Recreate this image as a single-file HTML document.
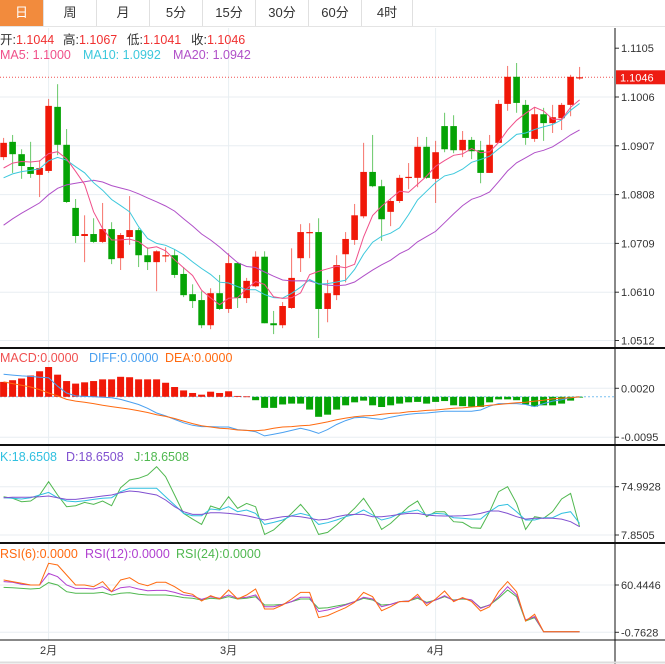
<!DOCTYPE html>
<html><head><meta charset="utf-8">
<style>
html,body{margin:0;padding:0;background:#fff;width:665px;height:664px;overflow:hidden;font-family:"Liberation Sans","Noto Sans CJK SC",sans-serif;}
#tabs{position:absolute;left:0;top:0;width:665px;height:26px;border-bottom:1px solid #e4e4e4;}
.tab{position:absolute;top:0;height:26px;line-height:26px;text-align:center;font-size:13px;color:#333;border-right:1px solid #e0e0e0;box-sizing:border-box;}
.tab.on{background:#f28b3d;color:#fff;}
svg{position:absolute;left:0;top:0;}
</style></head><body>
<div id="tabs">
<div class="tab on" style="left:0;width:44px">日</div>
<div class="tab" style="left:44px;width:53px">周</div>
<div class="tab" style="left:97px;width:53px">月</div>
<div class="tab" style="left:150px;width:53px">5分</div>
<div class="tab" style="left:203px;width:53px">15分</div>
<div class="tab" style="left:256px;width:53px">30分</div>
<div class="tab" style="left:309px;width:53px">60分</div>
<div class="tab" style="left:362px;width:51px">4时</div>
</div>
<svg id="chart" width="665" height="664" viewBox="0 0 665 664" font-family="Liberation Sans, Noto Sans CJK SC, sans-serif">
<g id="grid"></g>
<g id="marks"></g>
<g font-size="12.5">
<text y="44" fill="#333"><tspan x="0">开:</tspan><tspan fill="#f03030">1.1044</tspan><tspan x="63">高:</tspan><tspan fill="#f03030">1.1067</tspan><tspan x="127">低:</tspan><tspan fill="#f03030">1.1041</tspan><tspan x="191">收:</tspan><tspan fill="#f03030">1.1046</tspan></text>
<text y="59"><tspan x="0" fill="#f0508a">MA5: 1.1000</tspan><tspan x="83" fill="#3cc8dc">MA10: 1.0992</tspan><tspan x="173" fill="#b050c8">MA20: 1.0942</tspan></text>
</g>
<text y="362" font-size="12.5"><tspan x="0" fill="#f05050">MACD:0.0000</tspan><tspan x="89" fill="#4aa0f0">DIFF:0.0000</tspan><tspan x="165" fill="#ff6a10">DEA:0.0000</tspan></text>
<text y="461" font-size="12.5"><tspan x="0" fill="#30c0e0">K:18.6508</tspan><tspan x="66" fill="#8050d0">D:18.6508</tspan><tspan x="134" fill="#50b850">J:18.6508</tspan></text>
<text y="558" font-size="12.5"><tspan x="0" fill="#ff6a10">RSI(6):0.0000</tspan><tspan x="85" fill="#b040d0">RSI(12):0.0000</tspan><tspan x="176" fill="#50b850">RSI(24):0.0000</tspan></text>
</svg>
<script>
const prior=[1.0630,1.0640,1.0645,1.0650,1.0655,1.0650,1.0655,1.0660,1.0660,1.0655,1.0810,1.0820,1.0825,1.0830,1.0825,1.0840,1.0850,1.0855,1.0852];
const opens=[1.0884,1.0915,1.0890,1.0864,1.0848,1.0856,1.0986,1.0909,1.0781,1.0724,1.0728,1.0712,1.0738,1.0679,1.0722,1.0736,1.0685,1.0671,1.0684,1.0685,1.0647,1.0606,1.0594,1.0543,1.0608,1.0576,1.0669,1.0598,1.0622,1.0682,1.0547,1.0543,1.0578,1.0679,1.0730,1.0732,1.0576,1.0604,1.0687,1.0716,1.0764,1.0854,1.0825,1.0773,1.0795,1.0842,1.0842,1.0905,1.0840,1.0947,1.0947,1.0898,1.0919,1.0898,1.0852,1.0913,1.0992,1.1047,1.0990,1.0921,1.0971,1.0953,1.0963,1.0990,1.1044];
const highs=[1.0923,1.0929,1.0900,1.0915,1.0878,1.1002,1.1032,1.0941,1.0799,1.0766,1.0760,1.0791,1.0752,1.0730,1.0805,1.0740,1.0701,1.0695,1.0701,1.0697,1.0661,1.0626,1.0612,1.0618,1.0645,1.0689,1.0671,1.0639,1.0693,1.0693,1.0572,1.0590,1.0699,1.0748,1.0750,1.0760,1.0635,1.0685,1.0732,1.0789,1.0913,1.0929,1.0838,1.0801,1.0848,1.0872,1.0925,1.0925,1.0917,1.0974,1.0969,1.0937,1.0925,1.0917,1.0929,1.1000,1.1069,1.1075,1.1000,1.0984,1.0984,1.0990,1.0994,1.1051,1.1067];
const lows=[1.0878,1.0852,1.0840,1.0842,1.0803,1.0852,1.0888,1.0791,1.0710,1.0671,1.0710,1.0710,1.0667,1.0655,1.0706,1.0661,1.0655,1.0612,1.0671,1.0639,1.0600,1.0578,1.0537,1.0535,1.0574,1.0568,1.0578,1.0588,1.0620,1.0547,1.0525,1.0537,1.0576,1.0651,1.0679,1.0517,1.0549,1.0594,1.0630,1.0706,1.0760,1.0823,1.0714,1.0744,1.0791,1.0819,1.0823,1.0840,1.0791,1.0894,1.0892,1.0884,1.0880,1.0831,1.0852,1.0913,1.0978,1.0974,1.0909,1.0915,1.0917,1.0933,1.0939,1.0967,1.1041];
const closes=[1.0913,1.0890,1.0866,1.0850,1.0862,1.0988,1.0909,1.0793,1.0724,1.0728,1.0712,1.0738,1.0677,1.0726,1.0736,1.0685,1.0671,1.0693,1.0685,1.0645,1.0604,1.0592,1.0543,1.0608,1.0576,1.0669,1.0598,1.0633,1.0682,1.0547,1.0543,1.0582,1.0639,1.0732,1.0732,1.0576,1.0608,1.0665,1.0718,1.0766,1.0854,1.0825,1.0758,1.0795,1.0842,1.0844,1.0905,1.0842,1.0894,1.0900,1.0898,1.0919,1.0896,1.0852,1.0909,1.0992,1.1047,1.0994,1.0923,1.0971,1.0953,1.0965,1.0990,1.1047,1.1046];
const priceTicks=[1.1105,1.1006,1.0907,1.0808,1.0709,1.0610,1.0512];
const macd=[0.0035,0.0039,0.0043,0.0050,0.0060,0.0070,0.0052,0.0037,0.0031,0.0034,0.0037,0.0041,0.0041,0.0047,0.0046,0.0041,0.0041,0.0041,0.0033,0.0023,0.0015,0.0009,0.0005,0.0012,0.0009,0.0013,0.0002,0.0001,-0.0008,-0.0026,-0.0026,-0.0018,-0.0016,-0.0016,-0.0030,-0.0047,-0.0042,-0.0030,-0.0020,-0.0013,-0.0009,-0.0020,-0.0024,-0.0020,-0.0016,-0.0013,-0.0012,-0.0016,-0.0012,-0.0010,-0.0020,-0.0022,-0.0023,-0.0024,-0.0013,-0.0006,-0.0006,-0.0008,-0.0018,-0.0023,-0.0020,-0.0020,-0.0016,-0.0009,-0.0001];
const dif=[0.0053,0.0051,0.0049,0.0048,0.0046,0.0045,0.0025,0.0009,0.0002,0.0001,0,-0.0001,-0.0002,-0.0006,-0.0012,-0.0018,-0.0027,-0.0038,-0.0045,-0.0053,-0.0061,-0.0067,-0.0070,-0.0070,-0.0071,-0.0071,-0.0077,-0.0079,-0.0082,-0.0092,-0.0088,-0.0084,-0.0079,-0.0074,-0.0079,-0.0086,-0.0077,-0.0065,-0.0056,-0.0049,-0.0048,-0.0051,-0.0053,-0.0048,-0.0044,-0.0041,-0.0039,-0.0038,-0.0036,-0.0034,-0.0034,-0.0034,-0.0034,-0.0031,-0.0022,-0.0016,-0.0016,-0.0016,-0.0018,-0.0023,-0.0016,-0.0010,-0.0007,-0.0002,0];
const dea=[0.0035,0.0031,0.0027,0.0023,0.0017,0.0009,0.0002,-0.0006,-0.0010,-0.0013,-0.0016,-0.0020,-0.0023,-0.0026,-0.0029,-0.0033,-0.0037,-0.0042,-0.0046,-0.0051,-0.0057,-0.0063,-0.0068,-0.0071,-0.0074,-0.0075,-0.0078,-0.0079,-0.0080,-0.0078,-0.0074,-0.0071,-0.0070,-0.0068,-0.0067,-0.0063,-0.0059,-0.0054,-0.0050,-0.0047,-0.0045,-0.0044,-0.0041,-0.0039,-0.0038,-0.0035,-0.0034,-0.0032,-0.0031,-0.0029,-0.0027,-0.0026,-0.0024,-0.0022,-0.0020,-0.0018,-0.0016,-0.0014,-0.0013,-0.0010,-0.0008,-0.0005,-0.0003,-0.0002,0];
const macdTicks=[0.0020,-0.0095];
const kVals=[59.7,58.8,57.9,59.7,63.4,67.1,59.7,55.1,54.1,55.5,57.4,58.8,59.7,68.0,72.7,72.7,72.7,72.7,61.1,49.5,37.9,34.7,34.7,44.0,42.6,47.2,40.2,42.6,37.9,22.6,25.4,28.7,34.7,37.9,34.7,22.6,24.9,28.7,33.3,36.5,42.6,35.6,28.7,31.9,37.9,40.2,42.6,35.6,37.9,37.0,31.9,31.0,30.0,30.0,40.2,48.6,50.4,40.2,28.7,28.7,31.9,31.9,37.9,40.2,24.0];
const dVals=[59.7,60.2,60.2,60.6,61.1,62.0,59.7,57.4,57.4,58.8,60.2,62.0,63.4,66.7,69.0,68.0,65.7,63.4,56.5,47.2,40.2,36.5,36.5,38.8,38.8,37.9,36.5,34.7,31.9,28.7,31.0,33.3,34.2,33.3,31.0,28.7,30.0,33.3,35.6,36.5,36.5,33.3,33.3,34.7,36.5,37.9,37.9,35.6,34.7,34.2,34.2,34.7,35.6,37.9,41.2,41.2,37.9,33.3,30.0,31.0,31.0,31.0,30.0,26.4,19.4];
const jVals=[61.1,58.8,54.1,55.1,63.4,81.9,63.4,47.2,48.6,53.2,50.4,55.1,48.6,73.6,84.3,86.6,91.2,102.8,88.9,63.4,37.9,30.0,22.6,48.1,44.0,61.1,44.9,51.8,47.2,8.7,14.8,26.4,37.9,50.4,35.6,8.7,11.5,21.7,33.3,44.9,58.8,40.2,15.7,24.0,35.6,47.2,55.1,33.3,40.2,40.2,26.4,25.4,18.0,17.1,40.2,68.0,75.0,51.8,15.7,33.3,31.0,40.2,57.9,65.7,19.4];
const kdjTicks=[74.9928,7.8505];
const rsi6=[66.9,64.8,62.6,60.4,60.4,88.5,86.3,73.4,60.4,60.4,58.3,64.8,51.8,66.9,69.9,62.6,59.6,63.9,63.9,58.3,50.9,48.4,39.7,46.6,42.3,54.0,42.3,47.5,55.3,29.4,29.4,34.6,42.3,50.9,50.9,18.2,20.8,26.0,31.1,38.0,50.9,45.3,27.2,32.4,38.9,38.9,48.4,33.7,42.3,52.7,38.9,44.1,38.9,26.8,32.4,51.8,64.8,51.8,13.9,22.5,0,0,0,0,0];
const rsi12=[64.8,63.9,61.3,60.4,60.4,75.5,71.2,60.4,56.1,56.1,55.3,58.3,51.8,57.0,58.3,55.3,53.1,53.5,53.5,50.9,47.5,46.2,41.9,45.3,43.2,47.5,43.2,44.5,47.5,32.4,32.4,35.4,38.9,44.5,44.5,26.0,28.1,31.1,34.6,38.9,44.5,42.3,32.4,35.4,38.9,39.7,45.3,36.7,41.0,46.6,40.2,43.2,41.0,30.3,34.6,45.3,58.3,47.5,15.2,19.5,0,0,0,0,0];
const rsi24=[57.4,57.0,56.1,55.3,56.1,63.5,60.4,51.8,49.7,49.7,49.7,50.9,47.5,49.7,50.5,48.4,47.5,47.5,47.5,46.2,44.1,43.2,41.0,43.2,42.3,45.3,42.3,43.2,45.3,34.6,34.6,35.4,38.9,42.3,42.3,30.3,31.1,33.3,35.4,38.9,43.2,41.0,34.6,35.4,38.9,39.7,43.2,38.0,41.0,45.3,41.0,42.3,41.0,31.1,34.6,43.2,54.0,45.3,13.9,18.2,0,0,0,0,0];
const rsiTicks=[60.4446,-0.7628];
const monthLabels=["2月","3月","4月"];
const monthIdx=[5,25,48];

const NS="http://www.w3.org/2000/svg";
const grid=document.getElementById('grid'), marks=document.getElementById('marks');
function mk(tag,attrs,parent){const e=document.createElementNS(NS,tag);for(const k in attrs)e.setAttribute(k,attrs[k]);(parent||marks).appendChild(e);return e;}
const AX=615;
const yP=p=>97+(1.1006-p)/0.0099*48.8;
const xC=i=>3.6+9*i;
const xI=xC;
const yM=v=>396.8-v/0.000235;
const yK=v=>486.7-(v-74.9928)/1.39;
const yR=v=>585-(v-60.4446)/1.294;
function label(txt,y,name){const t=mk('text',{x:AX+6,y:y+4,'font-size':11,fill:'#333'},grid);t.textContent=txt;


mk('line',{x1:AX,x2:AX+4,y1:y,y2:y,stroke:'#333'},grid);}
priceTicks.forEach((p,i)=>{const y=yP(p);if(i>0)mk('line',{x1:0,x2:AX,y1:y,y2:y,stroke:'#e8eef2'},grid);label(p.toFixed(4),y,'price-tick');});
monthIdx.forEach(i=>{mk('line',{x1:xC(i),x2:xC(i),y1:28,y2:640,stroke:'#e8eef2'},grid);});
macdTicks.forEach(v=>{const y=yM(v);mk('line',{x1:0,x2:AX,y1:y,y2:y,stroke:'#e8eef2'},grid);label(v.toFixed(4),y,'macd-tick');});
kdjTicks.forEach(v=>{const y=yK(v);mk('line',{x1:0,x2:AX,y1:y,y2:y,stroke:'#e8eef2'},grid);label(v.toFixed(4),y,'kdj-tick');});
rsiTicks.forEach(v=>{const y=yR(v);mk('line',{x1:0,x2:AX,y1:y,y2:y,stroke:'#e8eef2'},grid);label(v.toFixed(4),y,'rsi-tick');});
monthLabels.forEach((m,k)=>{const t=mk('text',{x:xC(monthIdx[k]),y:654,'font-size':11,fill:'#333','text-anchor':'middle'},grid);t.textContent=m;

});
[[348,2],[445,2],[543,2],[640,1]].forEach(([y,w])=>mk('line',{x1:0,x2:665,y1:y,y2:y,stroke:'#111','stroke-width':w},grid));
mk('line',{x1:AX,x2:AX,y1:28,y2:664,stroke:'#111','stroke-width':1},grid);
mk('line',{x1:0,x2:665,y1:662.5,y2:662.5,stroke:'#ddd','stroke-width':2},grid);
const lastY=yP(closes[closes.length-1]);
mk('line',{x1:0,x2:AX,y1:lastY,y2:lastY,stroke:'#f05050','stroke-dasharray':'1,2','stroke-width':1});
mk('rect',{x:AX+1,y:lastY-7,width:49,height:14,fill:'#ee1c12'});
const lt=mk('text',{x:AX+5,y:lastY+4,'font-size':11,fill:'#fff'});lt.textContent=closes[closes.length-1].toFixed(4);


const RED='#f01808',GREEN='#05a305';
closes.forEach((c,i)=>{const o=opens[i],up=c>=o,col=up?RED:GREEN,x=xC(i);
const w=mk('line',{x1:x,x2:x,y1:yP(highs[i]),y2:yP(lows[i]),stroke:col,'stroke-opacity':0.6});


const top=yP(Math.max(o,c)),bot=yP(Math.min(o,c));
const r=mk('rect',{x:x-3.3,y:top,width:6.6,height:Math.max(1.2,bot-top),fill:col});

});
const all=prior.concat(closes);
function ma(n){return closes.map((_,i)=>{const j=i+prior.length;let s=0,c=0;for(let k=j-n+1;k<=j;k++){if(k>=0){s+=all[k];c++;}}return s/c;});}
function poly(vals,xf,yf,col,name){const pts=vals.map((v,i)=>xf(i).toFixed(1)+','+yf(v).toFixed(1)).join(' ');
const p=mk('polyline',{points:pts,fill:'none',stroke:col,'stroke-width':1});

}
poly(ma(20),xC,yP,'#b050c8','ma20-line');
poly(ma(10),xC,yP,'#3cc8dc','ma10-line');
poly(ma(5),xC,yP,'#f0508a','ma5-line');
const zy=yM(0);
mk('line',{x1:0,x2:AX,y1:zy,y2:zy,stroke:'#7ac0f0','stroke-dasharray':'2,2'});
macd.forEach((v,i)=>{const y=yM(v);const b=mk('rect',{x:xI(i)-3.5,y:Math.min(y,zy),width:7,height:Math.max(0.8,Math.abs(y-zy)),fill:v>=0?'#f01808':'#05a305'});

});
poly(dif,xI,yM,'#4aa0f0','dif-line');
poly(dea,xI,yM,'#ff6a10','dea-line');
poly(jVals,xI,yK,'#50b850','j-line');
poly(kVals,xI,yK,'#30c0e0','k-line');
poly(dVals,xI,yK,'#8050d0','d-line');
poly(rsi24,xI,yR,'#50b850','rsi24-line');
poly(rsi12,xI,yR,'#b040d0','rsi12-line');
poly(rsi6,xI,yR,'#ff6a10','rsi6-line');
</script>
</body></html>
